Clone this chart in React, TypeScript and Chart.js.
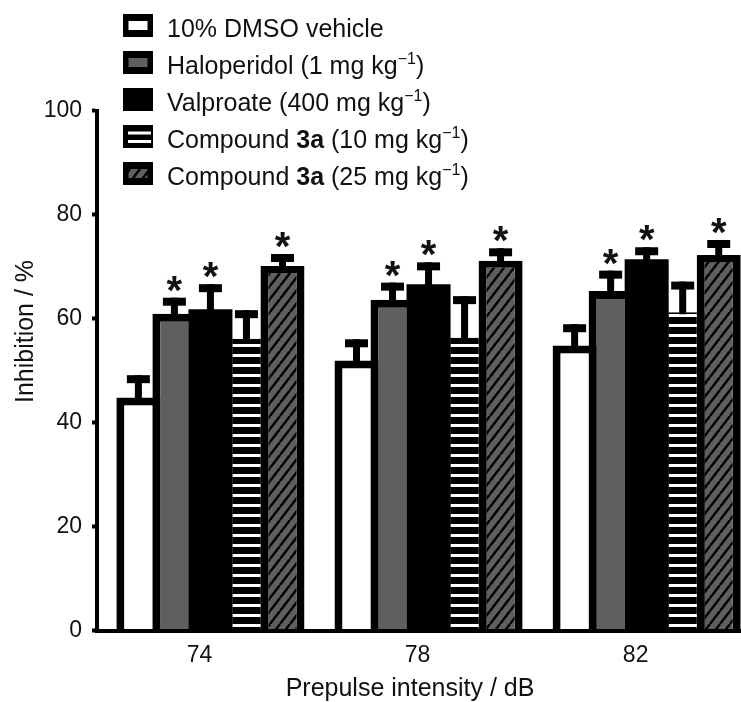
import React, { useEffect, useRef } from "react";
import { Chart, registerables } from "chart.js";

Chart.register(...registerables);

// ---------------- data ----------------
const CATEGORIES = ["74", "78", "82"]; // prepulse intensity (dB)
const Y_TICKS = [0, 20, 40, 60, 80, 100];

const SERIES_LABELS = [
  "10% DMSO vehicle",
  "Haloperidol (1 mg kg⁻¹)",
  "Valproate (400 mg kg⁻¹)",
  "Compound 3a (10 mg kg⁻¹)",
  "Compound 3a (25 mg kg⁻¹)",
];

const VEHICLE = [44.8, 51.9, 54.8];
const VEHICLE_ERR = [4.3, 4.1, 4.1];
const VEHICLE_SIG = [false, false, false];

const HALOPERIDOL = [60.9, 63.6, 65.3];
const HALOPERIDOL_ERR = [3.1, 3.3, 3.9];
const HALOPERIDOL_SIG = [true, true, true];

const VALPROATE = [61.8, 66.6, 71.4];
const VALPROATE_ERR = [4.8, 4.2, 2.3];
const VALPROATE_SIG = [true, true, true];

const CMPD3A_10 = [56.1, 56.3, 61.2];
const CMPD3A_10_ERR = [5.5, 8.0, 5.9];
const CMPD3A_10_SIG = [false, false, false];

const CMPD3A_25 = [70.1, 71.1, 72.2];
const CMPD3A_25_ERR = [2.3, 2.4, 2.9];
const CMPD3A_25_SIG = [true, true, true];

type Run = { t: string; bold?: boolean; sup?: boolean };
const LEGEND_TEXT: Run[][] = [
  [{ t: "10% DMSO vehicle" }],
  [{ t: "Haloperidol (1 mg kg" }, { t: "−1", sup: true }, { t: ")" }],
  [{ t: "Valproate (400 mg kg" }, { t: "−1", sup: true }, { t: ")" }],
  [{ t: "Compound " }, { t: "3a", bold: true }, { t: " (10 mg kg" }, { t: "−1", sup: true }, { t: ")" }],
  [{ t: "Compound " }, { t: "3a", bold: true }, { t: " (25 mg kg" }, { t: "−1", sup: true }, { t: ")" }],
];

const X_TITLE = "Prepulse intensity / dB";
const Y_TITLE = "Inhibition / %";

// ---------------- styles ----------------
const FONT = "'Liberation Sans', Arial, Helvetica, sans-serif";
const GRAY = "#5f5f5f";
const TEXT = "#111";

function makeStripePattern(): CanvasPattern {
  const c = document.createElement("canvas");
  c.width = 8;
  c.height = 10;
  const g = c.getContext("2d")!;
  g.fillStyle = "#000";
  g.fillRect(0, 0, 8, 10);
  g.fillStyle = "#fff";
  g.fillRect(0, 4, 8, 3);
  return g.createPattern(c, "repeat")!;
}

function makeHatchPattern(): CanvasPattern {
  const w = 10;
  const h = 13;
  const c = document.createElement("canvas");
  c.width = w;
  c.height = h;
  const g = c.getContext("2d")!;
  g.fillStyle = GRAY;
  g.fillRect(0, 0, w, h);
  g.strokeStyle = "#000";
  g.lineWidth = 2.4;
  for (const dx of [-w, 0, w]) {
    g.beginPath();
    g.moveTo(dx, h);
    g.lineTo(dx + w, 0);
    g.stroke();
  }
  return g.createPattern(c, "repeat")!;
}

function drawRich(ctx: CanvasRenderingContext2D, runs: Run[], x: number, y: number) {
  let cx = x;
  ctx.textAlign = "left";
  ctx.textBaseline = "alphabetic";
  for (const r of runs) {
    const size = r.sup ? 16 : 25;
    ctx.font = `${r.bold ? "bold " : ""}${size}px ${FONT}`;
    ctx.fillText(r.t, cx, r.sup ? y - 10 : y);
    cx += ctx.measureText(r.t).width;
  }
}

export default function App() {
  const ref = useRef<HTMLCanvasElement>(null);

  useEffect(() => {
    const canvas = ref.current!;
    const stripes = makeStripePattern();
    const hatch = makeHatchPattern();
    const xValues = CATEGORIES.map(Number);

    const series = [
      { values: VEHICLE, err: VEHICLE_ERR, sig: VEHICLE_SIG, fill: "#fff" as any, side: 8, top: 8 },
      { values: HALOPERIDOL, err: HALOPERIDOL_ERR, sig: HALOPERIDOL_SIG, fill: GRAY as any, side: 8, top: 8 },
      { values: VALPROATE, err: VALPROATE_ERR, sig: VALPROATE_SIG, fill: "#000" as any, side: 0, top: 0 },
      { values: CMPD3A_10, err: CMPD3A_10_ERR, sig: CMPD3A_10_SIG, fill: stripes as any, side: 8, top: 0 },
      { values: CMPD3A_25, err: CMPD3A_25_ERR, sig: CMPD3A_25_SIG, fill: hatch as any, side: 8, top: 7 },
    ];
    const legendKinds = ["white", "gray", "black", "stripes", "hatch"];

    const errorBarsPlugin = {
      id: "errorBars",
      afterDatasetsDraw(chart: any) {
        const ctx: CanvasRenderingContext2D = chart.ctx;
        const yScale = chart.scales.y;
        ctx.save();
        series.forEach((s, di) => {
          const meta = chart.getDatasetMeta(di);
          meta.data.forEach((bar: any, i: number) => {
            const capTop = yScale.getPixelForValue(s.values[i] + s.err[i]);
            ctx.fillStyle = "#000";
            ctx.fillRect(bar.x - 3.5, capTop, 7, bar.y - capTop + 2);
            ctx.fillRect(bar.x - 11.5, capTop, 23, 8);
            if (s.sig[i]) {
              ctx.font = `bold 40px ${FONT}`;
              ctx.textAlign = "center";
              ctx.textBaseline = "alphabetic";
              const m = ctx.measureText("*");
              const cy = capTop - 14;
              const base = cy + (m.actualBoundingBoxAscent - m.actualBoundingBoxDescent) / 2;
              ctx.fillStyle = TEXT;
              ctx.fillText("*", bar.x, base);
            }
          });
        });
        ctx.restore();
      },
    };

    const overlayPlugin = {
      id: "overlay",
      afterDraw(chart: any) {
        const ctx: CanvasRenderingContext2D = chart.ctx;
        ctx.save();
        // legend
        LEGEND_TEXT.forEach((runs, i) => {
          const cy = 25.5 + i * 37;
          const bx = 123;
          const by = cy - 11.5;
          const bw = 30;
          const bh = 23;
          ctx.fillStyle = "#000";
          ctx.fillRect(bx, by, bw, bh);
          const kind = legendKinds[i];
          if (kind === "white" || kind === "gray" || kind === "hatch") {
            ctx.fillStyle = kind === "white" ? "#fff" : kind === "gray" ? GRAY : (hatch as any);
            ctx.fillRect(bx + 5.5, by + 7, bw - 11, bh - 14);
          } else if (kind === "stripes") {
            ctx.fillStyle = "#fff";
            ctx.fillRect(bx + 5, cy - 5, bw - 7, 3);
            ctx.fillRect(bx + 5, cy + 3.5, bw - 7, 3);
          }
          ctx.fillStyle = TEXT;
          drawRich(ctx, runs, 167, cy + 11.5);
        });
        // axis titles
        ctx.fillStyle = TEXT;
        ctx.font = `25px ${FONT}`;
        ctx.textAlign = "center";
        ctx.textBaseline = "alphabetic";
        ctx.fillText(X_TITLE, 410, 696);
        ctx.translate(33, 331.5);
        ctx.rotate(-Math.PI / 2);
        ctx.fillText(Y_TITLE, 0, 0);
        ctx.restore();
      },
    };

    const chart = new Chart(canvas, {
      type: "bar",
      data: {
        datasets: series.map((s, di) => ({
          label: SERIES_LABELS[di],
          data: s.values.map((v, i) => ({ x: xValues[i], y: v })),
          backgroundColor: s.fill,
          borderColor: "#000",
          borderWidth: { left: s.side, right: s.side, top: s.top, bottom: 0 },
          borderSkipped: "start",
        })) as any,
      },
      options: {
        animation: false,
        responsive: false,
        devicePixelRatio: 1,
        layout: { padding: { top: 110.5, left: 0, right: 0, bottom: 0 } },
        plugins: {
          legend: { display: false },
          tooltip: { enabled: false },
          title: { display: false },
        },
        datasets: {
          bar: { categoryPercentage: 180 / 218, barPercentage: 44 / 36 },
        },
        scales: {
          x: {
            type: "linear",
            offset: false,
            min: 71.92,
            max: 83.73,
            afterBuildTicks: (s: any) => {
              s.ticks = xValues.map((v) => ({ value: v }));
            },
            afterFit: (s: any) => {
              s.height = 71.5;
            },
            grid: { display: true, offset: false, drawOnChartArea: false, drawTicks: false },
            border: { display: true, color: "#000", width: 4, z: 1 },
            ticks: {
              callback: (_v: any, i: number) => CATEGORIES[i],
              font: { family: FONT, size: 23 },
              color: TEXT,
              padding: 11,
              labelOffset: -11,
              maxRotation: 0,
              autoSkip: false,
            },
          },
          y: {
            type: "linear",
            min: 0,
            max: 100,
            afterBuildTicks: (s: any) => {
              s.ticks = Y_TICKS.map((v) => ({ value: v }));
            },
            afterFit: (s: any) => {
              s.width = 97;
            },
            grid: {
              display: true,
              drawOnChartArea: false,
              drawTicks: true,
              tickLength: 5,
              tickWidth: 4,
              tickColor: "#000",
            },
            border: { display: true, color: "#000", width: 4, z: 1 },
            ticks: {
              font: { family: FONT, size: 23 },
              color: TEXT,
              padding: 10,
            },
          },
        },
      } as any,
      plugins: [errorBarsPlugin, overlayPlugin],
    });

    return () => chart.destroy();
  }, []);

  return (
    <div
      style={{
        position: "fixed",
        left: 0,
        top: 0,
        width: 741,
        height: 702,
        background: "#fff",
        overflow: "hidden",
      }}
    >
      <canvas ref={ref} width={741} height={702} style={{ display: "block", width: 741, height: 702 }} />
    </div>
  );
}
